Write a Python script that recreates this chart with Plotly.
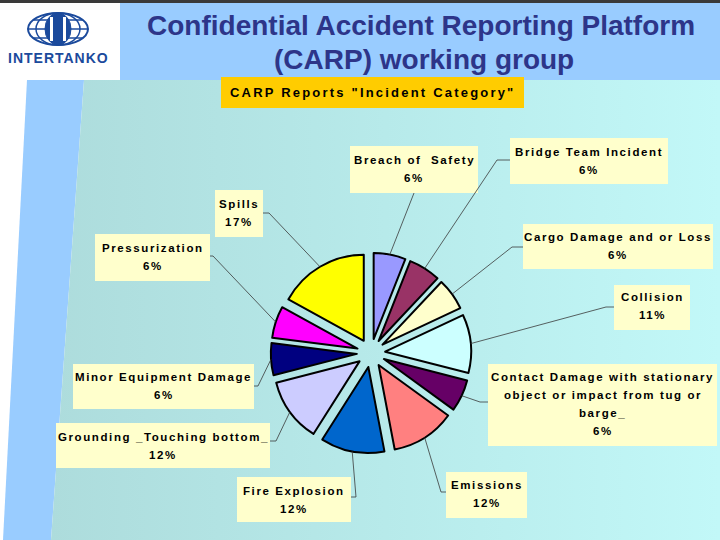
import math
import plotly.graph_objects as go

# ---------------- data ----------------
categories = [
    "Breach of Safety", "Bridge Team Incident", "Cargo Damage and or Loss", "Collision",
    "Contact Damage with stationary object or impact from tug or barge_", "Emissions",
    "Fire Explosion", "Grounding _Touching bottom_", "Minor Equipment Damage",
    "Pressurization", "Spills",
]
values = [6, 6, 6, 11, 6, 12, 12, 12, 6, 6, 17]
label_lines = [
    ["Breach of  Safety"], ["Bridge Team Incident"], ["Cargo Damage and or Loss"], ["Collision"],
    ["Contact Damage with stationary", "object or impact from tug or", "barge_"], ["Emissions"],
    ["Fire Explosion"], ["Grounding _Touching bottom_"], ["Minor Equipment Damage"],
    ["Pressurization"], ["Spills"],
]
chart_title = 'CARP Reports "Incident Category"'
header_lines = ["Confidential Accident Reporting Platform", "(CARP) working group"]
logo_text = "INTERTANKO"

# ---------------- style / layout ----------------
colors = ["#9999ff", "#993366", "#ffffcc", "#ccffff", "#660066", "#ff8080",
          "#0066cc", "#ccccff", "#000080", "#ff00ff", "#ffff00"]
W, H = 720, 540
CX, CY, R, PULL = 371, 353, 86, 0.165
HALF = R * (1 + PULL)
FONT = "Liberation Sans, Arial, sans-serif"

# label boxes (x0, y0, x1, y1), first text line y, leader anchor and elbow
boxes = [(350, 146, 478, 193), (510, 138, 668, 184), (523, 224, 713, 269), (614, 285, 690, 330),
         (488, 364, 717, 446), (446, 472, 527, 518), (237, 477, 351, 522), (56, 423, 270, 468),
         (73, 364, 254, 409), (95, 234, 210, 281), (215, 190, 263, 237)]
text_y0 = [160, 152, 237, 297, 377, 485, 491, 437, 377, 248, 204]
LINE_GAP = 18
anchors = [(414, 193), (510, 160), (523, 247), (614, 307), (488, 402), (446, 492),
           (351, 497), (270, 441), (254, 386), (210, 256), (263, 213)]
elbows = [(414, 193), (497, 160), (512, 247), (606, 307), (480, 402), (441, 492),
          (356, 497), (276, 441), (258, 386), (213, 256), (269, 213)]

fig = go.Figure()

# body gradient background
fig.add_trace(go.Scatter(
    x=[84, 720, 720, 51, 84], y=[80, 80, 540, 540, 80], mode="lines", fill="toself",
    line=dict(width=0), fillgradient=dict(type="horizontal",
                                          colorscale=[[0, "#addcdc"], [0.5, "#b7eaea"], [1, "#c2f8f8"]]),
    hoverinfo="skip", showlegend=False))

# pie
fig.add_trace(go.Pie(
    labels=categories, values=values, sort=False, direction="clockwise", rotation=0,
    pull=[PULL] * len(values), textinfo="none", hoverinfo="label+percent", showlegend=False,
    marker=dict(colors=colors, line=dict(color="black", width=2)),
    domain=dict(x=[(CX - HALF) / W, (CX + HALF) / W], y=[(H - CY - HALF) / H, (H - CY + HALF) / H]),
))

shapes = []
# slide decoration
shapes.append(dict(type="rect", x0=0, x1=720, y0=0, y1=3, fillcolor="#3a3a3a", line_width=0, layer="below"))
shapes.append(dict(type="rect", x0=120, x1=720, y0=3, y1=80, fillcolor="#99ccff", line_width=0, layer="below"))
shapes.append(dict(type="path", path="M 27 80 L 84 80 L 51 540 L 3 540 Z", fillcolor="#99ccff",
                   line_width=0, layer="below"))
# globe logo
GB = "#1b4a9c"
shapes.append(dict(type="circle", x0=28, x1=88, y0=13, y1=45, line=dict(color=GB, width=2)))
shapes.append(dict(type="circle", x0=36, x1=80, y0=13, y1=45, line=dict(color=GB, width=1.5)))
for yy in (20, 29, 38):
    hw = 30 * math.sqrt(max(0.0, 1 - ((yy - 29) / 16) ** 2))
    shapes.append(dict(type="line", x0=58 - hw, x1=58 + hw, y0=yy, y1=yy, line=dict(color=GB, width=1.5)))
shapes.append(dict(type="circle", x0=45, x1=71, y0=13, y1=45, fillcolor=GB, line=dict(color=GB, width=1)))
shapes.append(dict(type="rect", x0=50, x1=53, y0=17, y1=41, fillcolor="white", line_width=0))
shapes.append(dict(type="rect", x0=63, x1=66, y0=17, y1=41, fillcolor="white", line_width=0))

# chart title box
shapes.append(dict(type="rect", x0=221, x1=524, y0=77, y1=108, fillcolor="#ffcc00", line_width=0))

# label boxes and leader lines
total = sum(values)
cum = 0
for i, v in enumerate(values):
    mid = math.radians((cum + v / 2) / total * 360)
    cum += v
    dist = R * (1 + PULL)
    px, py = CX + dist * math.sin(mid), CY - dist * math.cos(mid)
    x0, y0, x1, y1 = boxes[i]
    shapes.append(dict(type="rect", x0=x0, x1=x1, y0=y0, y1=y1, fillcolor="#ffffcc", line_width=0))
    ax, ay = anchors[i]
    ex, ey = elbows[i]
    shapes.append(dict(type="path", path=f"M {ax} {ay} L {ex} {ey} L {px:.1f} {py:.1f}",
                       line=dict(color="#3a3a3a", width=0.8)))

annotations = []
def spaced(t, ls):
    return f'<span style="letter-spacing:{ls}px"><b>{t}</b></span>'

for i, v in enumerate(values):
    x0, y0, x1, y1 = boxes[i]
    lines = label_lines[i] + [f"{v}%"]
    for k, t in enumerate(lines):
        annotations.append(dict(x=(x0 + x1) / 2, y=text_y0[i] + k * LINE_GAP, xref="x", yref="y",
                                text=spaced(t, 1.6), showarrow=False, xanchor="center", yanchor="middle",
                                font=dict(family=FONT, size=11.5, color="black")))

annotations.append(dict(x=372, y=92, xref="x", yref="y", text=spaced(chart_title, 2.2), showarrow=False,
                        xanchor="center", yanchor="middle", font=dict(family=FONT, size=13, color="black")))
annotations.append(dict(x=421, y=25, xref="x", yref="y", text=f"<b>{header_lines[0]}</b>", showarrow=False,
                        xanchor="center", yanchor="middle", font=dict(family=FONT, size=28, color="#2d3589")))
annotations.append(dict(x=424, y=59, xref="x", yref="y", text=f"<b>{header_lines[1]}</b>", showarrow=False,
                        xanchor="center", yanchor="middle", font=dict(family=FONT, size=28, color="#2d3589")))
annotations.append(dict(x=58, y=58, xref="x", yref="y", text=spaced(logo_text, 1.0), showarrow=False,
                        xanchor="center", yanchor="middle", font=dict(family=FONT, size=14, color=GB)))

fig.update_layout(
    width=W, height=H, margin=dict(l=0, r=0, t=0, b=0), autosize=False,
    paper_bgcolor="white", plot_bgcolor="rgba(0,0,0,0)", showlegend=False,
    xaxis=dict(range=[0, W], visible=False, fixedrange=True, domain=[0, 1]),
    yaxis=dict(range=[H, 0], visible=False, fixedrange=True, domain=[0, 1]),
    shapes=shapes, annotations=annotations,
)

fig.write_html("out.html", config={"displayModeBar": False},
               post_script="document.body.style.margin='0';")
